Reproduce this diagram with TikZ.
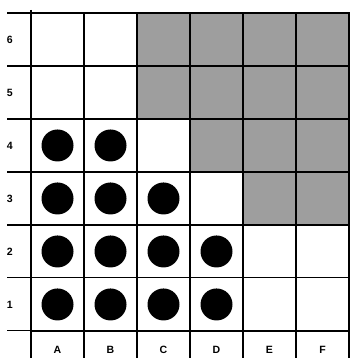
\documentclass[tikz,border=0pt]{standalone}
\usepackage{fontspec}
\setmainfont{Liberation Sans}
\usepackage{tikz}

\tikzset{
  gridline/.style={line width=0.9pt},
  edgeline/.style={line width=2.4pt},
  stone/.style={circle,fill=black,minimum size=0.96cm,inner sep=0pt},
  shaded/.style={fill=black!38}
}

\begin{document}
\begin{tikzpicture}[x=1.59cm,y=1.59cm,font=\bfseries\small]
  \useasboundingbox (-0.585,-0.51) rectangle (6.02,6.245);
  % shaded squares
  \fill[shaded] (2,4) rectangle (6,6);
  \fill[shaded] (3,3) rectangle (6,4);
  \fill[shaded] (4,2) rectangle (6,3);
  % grid lines
  \foreach \y in {0,...,6} \draw[gridline] (-0.45,\y) -- (6.02,\y);
  \foreach \x in {1,...,6} \draw[gridline] (\x,-0.51) -- (\x,6);
  \draw[gridline] (0,-0.51) -- (0,0);
  % board edge
  \draw[edgeline] (0,6.06) -- (0,0) -- (6.02,0);
  \draw[edgeline] (0,6) -- (6.02,6);
  % labels
  \foreach \r in {1,...,6} \node (row\r) at (-0.4,\r-0.5) {\r};
  \foreach \c [count=\i] in {A,B,C,D,E,F} \node (col\c) at (\i-0.5,-0.36) {\c};
  % stones
  \foreach \c/\r in {A/1,B/1,C/1,D/1,A/2,B/2,C/2,D/2,A/3,B/3,C/3,A/4,B/4}
    \node[stone] (stone\c\r) at (col\c |- row\r) {};
\end{tikzpicture}
\end{document}
